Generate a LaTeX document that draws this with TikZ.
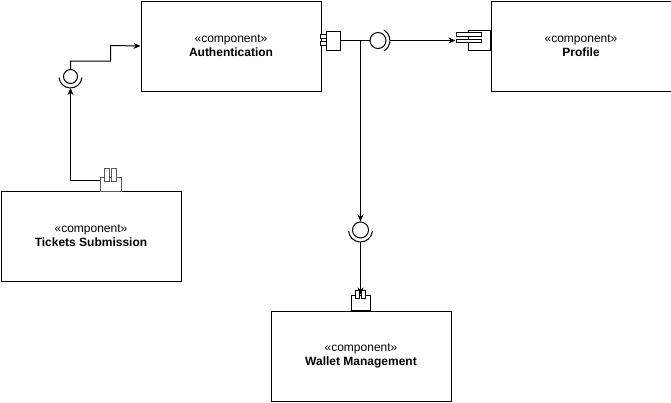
\documentclass[tikz,border=0pt]{standalone}
\usepackage{fontspec}
\setmainfont{Liberation Sans}
\usetikzlibrary{arrows.meta}
\begin{document}
\begin{tikzpicture}[x=1pt,y=-1pt,line width=1pt,
  comp/.style={draw, rectangle, minimum width=180pt, minimum height=90pt, inner sep=0pt, align=center, font=\fontsize{12}{14}\selectfont, anchor=north west},
  prt/.style={draw, fill=white, rectangle, inner sep=0pt},
  lolli/.style={draw, fill=white, circle, inner sep=0pt},
  arr/.style={-{Stealth[length=7pt,width=6pt]}},
  gport/.style={draw=black!65, fill=white, rectangle, inner sep=0pt}
]
\useasboundingbox (0,0) rectangle (671,402);

% components
\node[comp] (auth) at (140.5,0.5) {«component»\\\textbf{Authentication}};
\node[comp] (prof) at (490.5,0.5) {«component»\\\textbf{Profile}};
\node[comp] (tick) at (0.5,190.5) {«component»\\\textbf{Tickets Submission}};
\node[comp] (wal) at (270.5,310.5) {«component»\\\textbf{Wallet Management}};

% Authentication port
\node[prt, minimum width=14pt, minimum height=19pt] (ap) at (333.5,40.5) {};
\node[prt, minimum width=5.5pt, minimum height=4pt] (ap1) at (323.5,36) {};
\node[prt, minimum width=5.5pt, minimum height=4pt] (ap2) at (323.5,43) {};

% Profile port
\node[prt, minimum width=22pt, minimum height=20pt] (pp) at (479.5,40.5) {};
\node[prt, minimum width=25pt, minimum height=3.5pt] (pb1) at (468.5,34.5) {};
\node[prt, minimum width=25pt, minimum height=3.5pt] (pb2) at (468.5,41) {};

% Wallet port
\node[prt, minimum width=19pt, minimum height=15pt] (wp) at (360.5,302.5) {};
\node[prt, minimum width=4.5pt, minimum height=8pt] (wp1) at (357.5,294) {};
\node[prt, minimum width=4.5pt, minimum height=8pt] (wp2) at (363.5,294) {};

% Tickets port
\node[gport, minimum width=21pt, minimum height=14pt] (tp) at (111,184) {};
\node[gport, minimum width=5pt, minimum height=13.5pt] (tp1) at (106.5,175) {};
\node[gport, minimum width=5pt, minimum height=13.5pt] (tp2) at (114.2,175) {};

% interfaces
\node[lolli, minimum size=16pt] (ai) at (378,40.5) {};
\draw (ai.center) ++(-60:12) arc (-60:60:12);
\coordinate (aso) at (390,40.5);
\coordinate (jn) at (360.5,40.5);

\node[lolli, minimum size=16pt] (wi) at (360.5,230) {};
\draw (wi.center) ++(5:12) arc (5:175:12);
\coordinate (wso) at (360.5,242);

\node[lolli, minimum size=14pt] (ti) at (70.5,76.5) {};
\draw (ti.center) ++(5:11.5) arc (5:175:11.5);
\coordinate (tso) at (70.5,88);

% connectors
\draw (ap.east) -- (ai.west);
\draw[arr] (aso) -- (aso -| pb2.west);
\draw[arr] (jn) -- (wi.north);
\draw[arr] (wso) -- (wp.north);
\draw[arr] ([yshift=4pt]tp.west) -| (tso);
\draw[arr] (ti.north) -- ++(0,-8) -| (110.5,45.5) -- (auth.west);
\end{tikzpicture}
\end{document}
